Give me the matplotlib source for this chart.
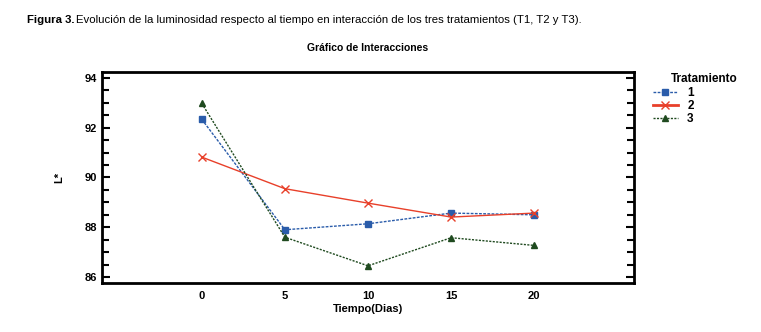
import matplotlib
matplotlib.use("Agg")
import matplotlib.pyplot as plt
from matplotlib.ticker import MultipleLocator

dias = [0, 5, 10, 15, 20]
t1 = [92.34, 87.90, 88.14, 88.57, 88.50]
t2 = [90.82, 89.55, 88.97, 88.41, 88.57]
t3 = [92.98, 87.60, 86.45, 87.58, 87.27]
labels = ["1", "2", "3"]

plt.rcParams['font.family'] = ['Liberation Sans', 'DejaVu Sans']

W, H = 761, 332
fig = plt.figure(figsize=(W/100, H/100), dpi=100)
ax = fig.add_axes([102/W, 1-283/H, (634-102)/W, (283-72)/H])

ax.plot(dias, t1, color='#2a5caa', ls=(0, (2, 1)), lw=1, marker='s', ms=5, label=labels[0])
ax.plot(dias, t2, color='#e8402a', ls='-', lw=1, marker='x', ms=6, mew=1, label=labels[1])
ax.plot(dias, t3, color='#1f4a1f', ls=(0, (1.5, 1)), lw=1, marker='^', ms=5, label=labels[2])

ax.set_xlim(-6, 26)
ax.set_ylim(85.76, 94.24)
ax.set_xticks(dias)
ax.yaxis.set_major_locator(MultipleLocator(2))
ax.yaxis.set_minor_locator(MultipleLocator(0.5))
ax.tick_params(axis='y', which='both', direction='in', left=True, right=True, width=1.5, length=6)
ax.tick_params(axis='y', which='minor', length=5)
ax.tick_params(axis='x', length=0, pad=6)
for lab in ax.get_xticklabels() + ax.get_yticklabels():
    lab.set_fontweight('bold')
    lab.set_fontsize(8)
for s in ax.spines.values():
    s.set_linewidth(2)

ax.set_xlabel("Tiempo(Dias)", fontsize=8, fontweight='bold', labelpad=2)
ax.set_ylabel("L*", fontsize=8, fontweight='bold', labelpad=15)
ax.set_title("Gráfico de Interacciones", fontsize=7.5, fontweight='bold', pad=15)

leg = fig.legend(*ax.get_legend_handles_labels(), loc='upper left',
                 bbox_to_anchor=(653/W, 1-87/H), bbox_transform=fig.transFigure,
                 frameon=False, prop={'weight': 'bold', 'size': 8.5},
                 handlelength=2.1, handletextpad=0.8, labelspacing=0.1,
                 borderaxespad=0, borderpad=0)
leg.get_lines()[1].set_linewidth(2)
fig.text(671/W, 1-79/H, "Tratamiento", fontsize=8.5, fontweight='bold', va='center', ha='left')

# figure caption: bold prefix + regular remainder
y0 = 1 - 20/H
fs = 8.2
t_bold = fig.text(27/W, y0, "Figura 3.", fontsize=fs, fontweight='bold', va='center')
fig.canvas.draw()
bb = t_bold.get_window_extent(renderer=fig.canvas.get_renderer())
fig.text(bb.x1/W + 2/W, y0,
         "Evolución de la luminosidad respecto al tiempo en interacción de los tres tratamientos (T1, T2 y T3).",
         fontsize=fs, va='center')

fig.savefig("out.png", dpi=100)
